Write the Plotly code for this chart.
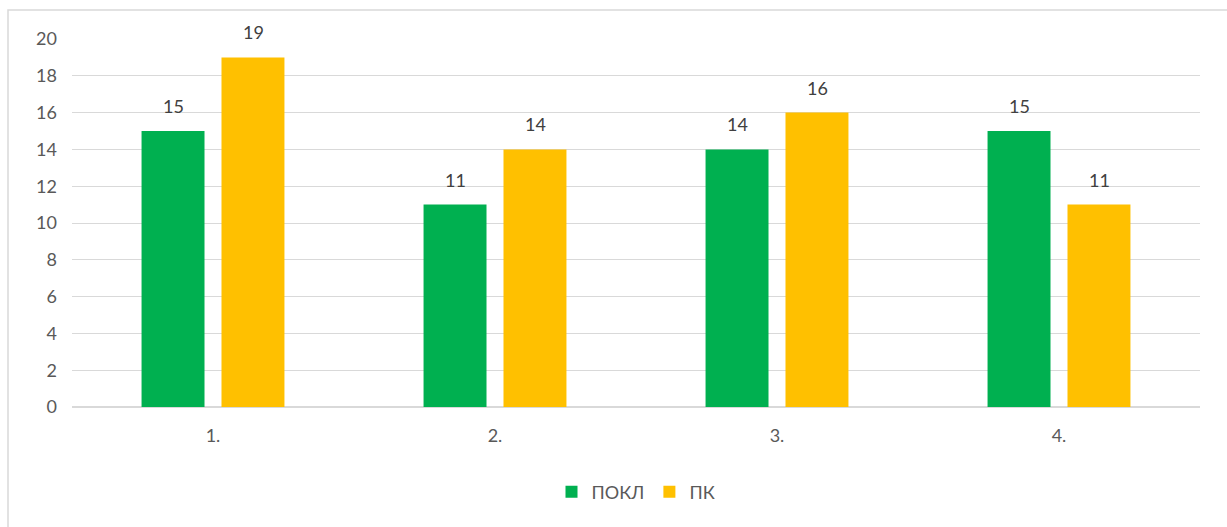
import plotly.graph_objects as go

categories = ["1.", "2.", "3.", "4."]
pokl = [15, 11, 14, 15]
pk = [19, 14, 16, 11]
series_names = ["ПОКЛ", "ПК"]
colors = ["#00B050", "#FFC000"]

FONT = "Lato, 'Open Sans', sans-serif"
TXT = "#595959"

fig = go.Figure()
for name, vals, col in zip(series_names, [pokl, pk], colors):
    fig.add_trace(go.Bar(
        x=categories, y=vals, name=name, marker=dict(color=col, line=dict(width=0)),
    ))

L, R, T, B = 72, 27, 39, 120
W, H = 1227, 527
pw = W - L - R
ph = H - T - B

annotations = []
for vals, xs in [(pokl, -40), (pk, 40)]:
    for i, v in enumerate(vals):
        annotations.append(dict(x=i, y=v, xref="x", yref="y", text=str(v), showarrow=False,
                                xshift=xs, yshift=25, yanchor="middle",
                                font=dict(family=FONT, size=18, color="#404040")))

fig.update_layout(
    width=W, height=H,
    margin=dict(l=L, r=R, t=T, b=B),
    paper_bgcolor="white", plot_bgcolor="white",
    barmode="group", bargap=0.433, bargroupgap=0.2125,
    font=dict(family=FONT, size=16, color=TXT),
    xaxis=dict(type="category", range=[-0.5, len(categories) - 0.5],
               showgrid=False, showline=False, ticks="", tickfont=dict(size=18, color=TXT),
               ticklabelstandoff=16),
    yaxis=dict(range=[0, 20], dtick=2, showgrid=True, gridcolor="#d9d9d9", gridwidth=1,
               zeroline=True, zerolinecolor="#d9d9d9", zerolinewidth=1.5,
               showline=False, ticks="", tickfont=dict(size=18, color=TXT),
               ticklabelstandoff=14),
    legend=dict(orientation="h", x=0.5, xanchor="center", y=(407 - 492) / ph, yanchor="middle",
                font=dict(size=18, color=TXT), itemwidth=30, traceorder="normal"),
    annotations=annotations,
    shapes=[dict(type="rect", xref="paper", yref="paper",
                 x0=(8 - L) / pw, x1=1.2, y0=-0.6, y1=(H - B - 10) / ph,
                 line=dict(color="#d9d9d9", width=1.5), fillcolor="rgba(0,0,0,0)", layer="below")],
)

fig.write_html("out.html")
